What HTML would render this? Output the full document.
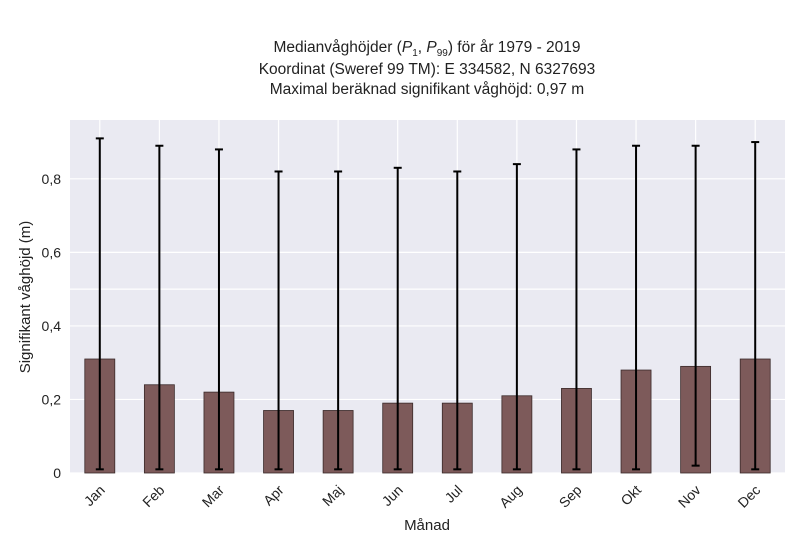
<!DOCTYPE html>
<html><head><meta charset="utf-8"><style>
body{margin:0;background:#fff;font-family:"Liberation Sans",sans-serif;}
svg text{font-family:"Liberation Sans",sans-serif;fill:#222;}
</style></head><body>
<svg id="chart" width="800" height="550" xmlns="http://www.w3.org/2000/svg">
<g>
<text x="427" y="52" text-anchor="middle" font-size="15.5">Medianvåghöjder (<tspan font-style="italic">P</tspan><tspan font-size="10" dy="4">1</tspan><tspan dy="-4">, </tspan><tspan font-style="italic">P</tspan><tspan font-size="10" dy="4">99</tspan><tspan dy="-4">) för år 1979 - 2019</tspan></text>
<text x="427" y="74" text-anchor="middle" font-size="15.5">Koordinat (Sweref 99 TM): E 334582, N 6327693</text>
<text x="427" y="94" text-anchor="middle" font-size="15.5">Maximal beräknad signifikant våghöjd: 0,97 m</text>
</g>
<rect x="70" y="120" width="715" height="353" fill="#eaeaf2"/>
<g id="grid"></g><g id="bars"></g><g id="axes"></g>
<text transform="translate(30,297) rotate(-90)" text-anchor="middle" font-size="15">Signifikant våghöjd (m)</text>
<text x="427" y="530" text-anchor="middle" font-size="15">Månad</text>
</svg>
<script>
const months=["Jan","Feb","Mar","Apr","Maj","Jun","Jul","Aug","Sep","Okt","Nov","Dec"];
const medians=[0.31,0.24,0.22,0.17,0.17,0.19,0.19,0.21,0.23,0.28,0.29,0.31];
const p1=[0.01,0.01,0.01,0.01,0.01,0.01,0.01,0.01,0.01,0.01,0.02,0.01];
const p99=[0.91,0.89,0.88,0.82,0.82,0.83,0.82,0.84,0.88,0.89,0.89,0.90];
const yTicks=[0,0.2,0.4,0.6,0.8];
const yTickLabels=["0","0,2","0,4","0,6","0,8"];
const yMinor=[0.5];
const NS="http://www.w3.org/2000/svg";
const X0=70,X1=785,Y0=473,Ytop=120,YMAX=0.96;
function y(v){return Y0-(v/YMAX)*(Y0-Ytop);}
function x(i){const step=(X1-X0)/months.length;return X0+step*(i+0.5);}
function mk(tag,attrs,parent){const e=document.createElementNS(NS,tag);for(const k in attrs)e.setAttribute(k,attrs[k]);parent.appendChild(e);return e;}
const grid=document.getElementById('grid'),bars=document.getElementById('bars'),axes=document.getElementById('axes');
yTicks.concat(yMinor).forEach(v=>{const l=mk('line',{x1:X0,x2:X1,y1:y(v),y2:y(v),stroke:'#fff','stroke-width':1.2},grid);

});
months.forEach((m,i)=>{const l=mk('line',{x1:x(i),x2:x(i),y1:Ytop,y2:Y0,stroke:'#fff','stroke-width':1.2},grid);

});
yTicks.forEach((v,i)=>{const t=mk('text',{x:X0-9,y:y(v)+5,'text-anchor':'end','font-size':14},axes);t.textContent=yTickLabels[i];

});
const bw=30;
months.forEach((m,i)=>{
const r=mk('rect',{x:x(i)-bw/2,y:y(medians[i]),width:bw,height:Y0-y(medians[i]),fill:'#7d5a5a',stroke:'#3a2a2a','stroke-width':0.8},bars);


const g=mk('g',{stroke:'#000','stroke-width':2},bars);


mk('line',{x1:x(i),x2:x(i),y1:y(p99[i]),y2:y(p1[i])},g);
mk('line',{x1:x(i)-4,x2:x(i)+4,y1:y(p99[i]),y2:y(p99[i])},g);
mk('line',{x1:x(i)-4,x2:x(i)+4,y1:y(p1[i]),y2:y(p1[i])},g);
const t=mk('text',{x:x(i)+6,y:Y0+18,'text-anchor':'end','font-size':14,transform:`rotate(-45 ${x(i)+6} ${Y0+18})`},axes);t.textContent=m;


});
</script>
</body></html>
